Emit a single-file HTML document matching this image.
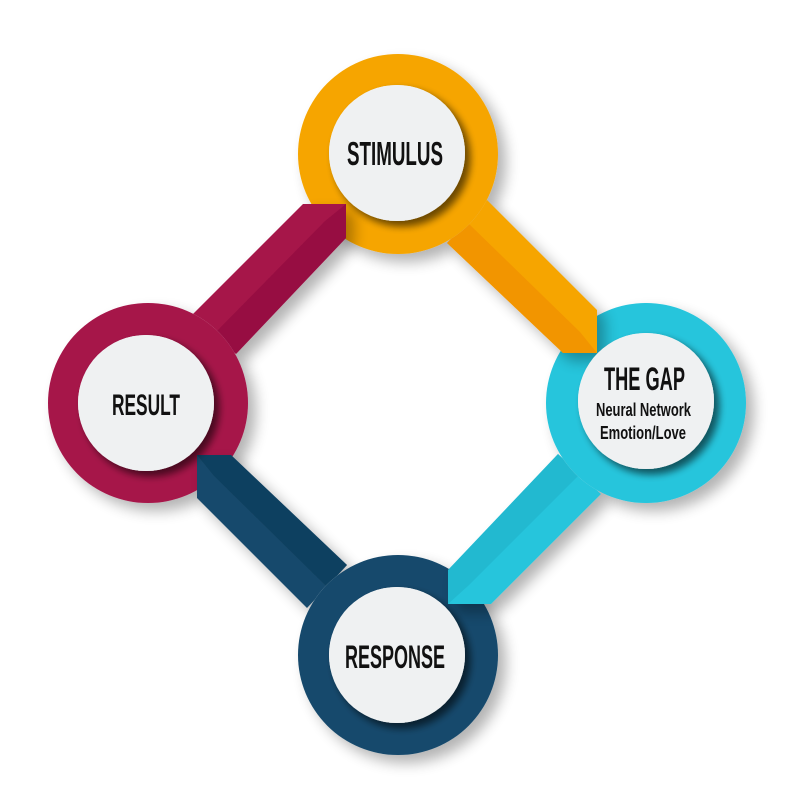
<!DOCTYPE html>
<html><head><meta charset="utf-8"><style>
html,body{margin:0;padding:0;background:#fff;}
svg{display:block;}
text{font-family:"Liberation Sans Narrow","Liberation Sans",sans-serif;font-weight:bold;fill:#111;}
</style></head><body>
<svg width="800" height="804" viewBox="0 0 800 804" xmlns="http://www.w3.org/2000/svg">
<defs>
<filter id="sh" x="-30%" y="-30%" width="160%" height="160%">
<feGaussianBlur in="SourceAlpha" stdDeviation="7"/>
<feOffset dx="8" dy="8"/>
<feComponentTransfer><feFuncA type="linear" slope="0.3"/></feComponentTransfer>
<feMerge><feMergeNode/><feMergeNode in="SourceGraphic"/></feMerge>
</filter>
<filter id="sh2" x="-30%" y="-30%" width="160%" height="160%">
<feGaussianBlur in="SourceAlpha" stdDeviation="4"/>
<feOffset dx="5" dy="5"/>
<feComponentTransfer><feFuncA type="linear" slope="0.35"/></feComponentTransfer>
<feMerge><feMergeNode/><feMergeNode in="SourceGraphic"/></feMerge>
</filter>
<mask id="mS" maskUnits="userSpaceOnUse" x="0" y="0" width="800" height="804"><rect width="800" height="804" fill="#fff"/><circle cx="398" cy="154" r="100" fill="#000"/></mask>
<mask id="mG" maskUnits="userSpaceOnUse" x="0" y="0" width="800" height="804"><rect width="800" height="804" fill="#fff"/><circle cx="646" cy="403" r="100" fill="#000"/></mask>
<mask id="mR" maskUnits="userSpaceOnUse" x="0" y="0" width="800" height="804"><rect width="800" height="804" fill="#fff"/><circle cx="398" cy="655" r="100" fill="#000"/></mask>
<mask id="mL" maskUnits="userSpaceOnUse" x="0" y="0" width="800" height="804"><rect width="800" height="804" fill="#fff"/><circle cx="148" cy="403" r="100" fill="#000"/></mask>
</defs>
<!-- outer circles -->
<g filter="url(#sh)">
<circle cx="398" cy="154" r="100" fill="#F6A500"/>
<circle cx="646" cy="403" r="100" fill="#26C5DC"/>
<circle cx="398" cy="655" r="100" fill="#164A6C"/>
<circle cx="148" cy="403" r="100" fill="#A61449"/>
</g>
<!-- inner circles -->
<g filter="url(#sh2)">
<circle cx="397" cy="153" r="68" fill="#EFF1F2"/>
<circle cx="646" cy="401" r="68" fill="#EFF1F2"/>
<circle cx="397" cy="655" r="68" fill="#EFF1F2"/>
<circle cx="146" cy="403" r="68" fill="#EFF1F2"/>
</g>
<!-- bands: masked out of origin circle, drawn over destination circle -->
<g mask="url(#mS)"><g filter="url(#sh)">
<polygon points="487,200 597,310 597,353 563,353 447,243" fill="#F6A500"/>
<polygon points="467,222 580,332 597,353 563,353 447,243" fill="#F08A00" opacity="0.6"/>
</g></g>
<g mask="url(#mG)"><g filter="url(#sh)">
<polygon points="601,494 491,604 448,604 448,570 558,454" fill="#26C5DC"/>
<polygon points="580,474 469,585 448,604 448,570 558,454" fill="#1FB0C8" opacity="0.6"/>
</g></g>
<g mask="url(#mR)"><g filter="url(#sh)">
<polygon points="307,608 197,498 197,455 231,455 347,565" fill="#164A6C"/>
<polygon points="327,587 214,476 197,455 231,455 347,565" fill="#0F3C58" opacity="0.6"/>
</g></g>
<g mask="url(#mL)"><g filter="url(#sh)">
<polygon points="193,314 303,204 346,204 346,238 236,354" fill="#A61449"/>
<polygon points="214,334 325,221 346,204 346,238 236,354" fill="#8E0F3E" opacity="0.6"/>
</g></g>
<!-- redraw inner circles on top -->
<g filter="url(#sh2)">
<circle cx="397" cy="153" r="68" fill="#EFF1F2"/>
<circle cx="646" cy="401" r="68" fill="#EFF1F2"/>
<circle cx="397" cy="655" r="68" fill="#EFF1F2"/>
<circle cx="146" cy="403" r="68" fill="#EFF1F2"/>
</g>
<text x="347" y="165" font-size="33" textLength="96" lengthAdjust="spacingAndGlyphs">STIMULUS</text>
<text x="112" y="415" font-size="30" textLength="68" lengthAdjust="spacingAndGlyphs">RESULT</text>
<text x="345" y="668" font-size="32" textLength="100" lengthAdjust="spacingAndGlyphs">RESPONSE</text>
<text x="604" y="390" font-size="32" textLength="81" lengthAdjust="spacingAndGlyphs">THE GAP</text>
<text x="596" y="416" font-size="18" textLength="95" lengthAdjust="spacingAndGlyphs">Neural Network</text>
<text x="600" y="439" font-size="18" textLength="86" lengthAdjust="spacingAndGlyphs">Emotion/Love</text>
</svg>
</body></html>
